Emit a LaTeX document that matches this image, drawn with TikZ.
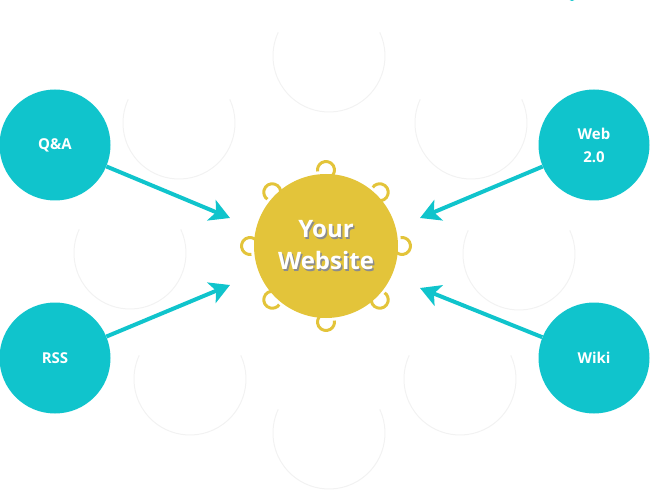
\documentclass[tikz,border=0pt]{standalone}
\usepackage{fontspec}
\setmainfont{Open Sans}
\usetikzlibrary{arrows.meta}
\definecolor{teal1}{RGB}{16,196,204}
\definecolor{gold1}{RGB}{227,196,58}
\definecolor{ghost}{RGB}{242,242,242}
\newcommand\shtext[1]{\leavevmode\rlap{\kern1.5pt\raisebox{-1.8pt}{\textcolor{black!45}{#1}}}#1}
\tikzset{
  bubble/.style={circle, fill=teal1, minimum size=111pt, inner sep=0pt, text=white, font=\bfseries\fontsize{15}{23}\selectfont, align=center},
  conn/.style={draw=teal1, line width=4pt, -{Stealth[length=20pt,width=22pt,inset=5pt]}},
  ghostarc/.style={draw=ghost, line width=1pt},
  hook/.style={draw=gold1, line width=3pt},
  bigtext/.style={font=\bfseries\fontsize{24}{32}\selectfont, align=center}
}
\begin{document}
\begin{tikzpicture}[x=1pt,y=-1pt]
\useasboundingbox (0,0) rectangle (651,492);
% faint background circles
\foreach \cx/\cy in {329/56, 179/123, 471/123, 130/253, 519/254, 190/379, 460/379, 329/433}{
  \draw[ghostarc] (\cx,\cy) ++(-25:56) arc[start angle=-25, end angle=205, radius=56];
}
% tiny teal sliver at top right
\fill[teal1] (572,-4) circle (5);
% hooks around the central circle
\foreach \a in {0,45,...,315}{
  \draw[hook] (326,246) ++(\a:76) ++(\a+150:8.5) arc[start angle=\a+150, end angle=\a+150-250, radius=8.5];
}
% central circle
\node[circle, fill=gold1, minimum size=144pt, inner sep=0pt] (web) at (326,246) {};
\node[bigtext, text=white] (title) at (326,246) {\shtext{Your}\\\shtext{Website}};
% outer bubbles
\node[bubble] (qa) at (55,145) {Q\&A};
\node[bubble] (w20) at (594,145) {Web\\2.0};
\node[bubble] (rss) at (55,358) {RSS};
\node[bubble] (wiki) at (594,358) {Wiki};
\coordinate (tqa) at (230,218);
\coordinate (tw20) at (420,218);
\coordinate (trss) at (230,285);
\coordinate (twiki) at (420,288);
\draw[conn] (qa) -- (tqa);
\draw[conn] (w20) -- (tw20);
\draw[conn] (rss) -- (trss);
\draw[conn] (wiki) -- (twiki);
\end{tikzpicture}
\end{document}
